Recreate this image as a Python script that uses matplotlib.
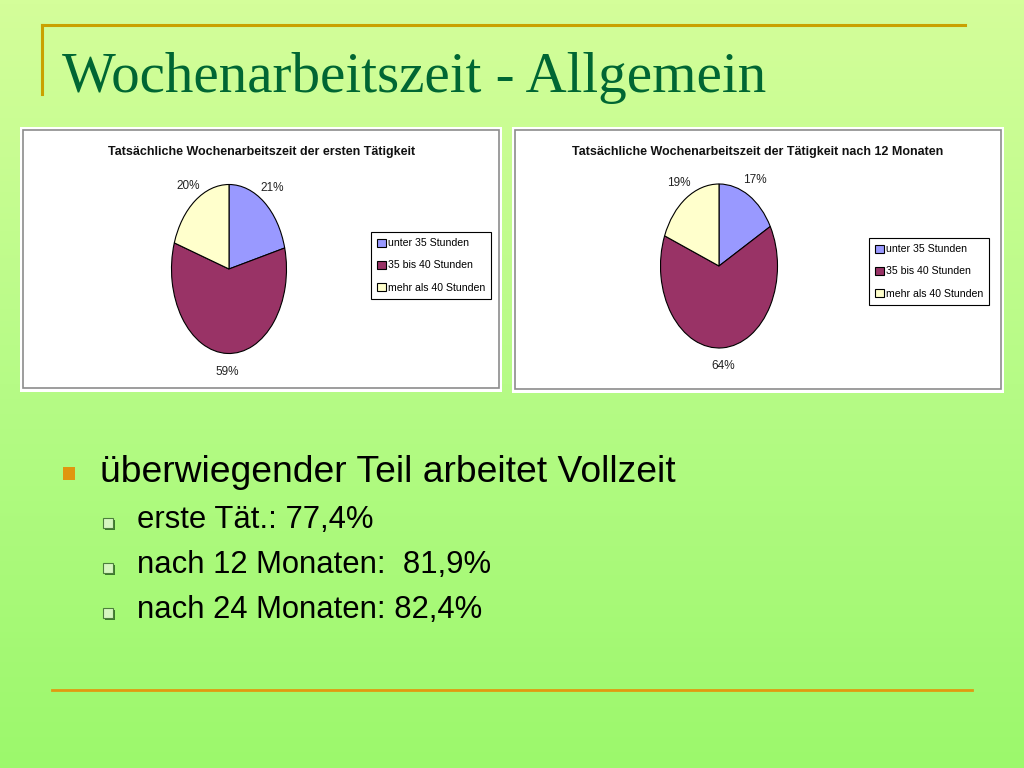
import numpy as np
import matplotlib
matplotlib.use("Agg")
import matplotlib.pyplot as plt
from matplotlib.patches import Rectangle
from matplotlib.colors import LinearSegmentedColormap

W, H = 1024, 768

# ------------------------------------------------------------
# data
# ------------------------------------------------------------
slide_title = "Wochenarbeitszeit - Allgemein"
categories = ["unter 35 Stunden", "35 bis 40 Stunden", "mehr als 40 Stunden"]
slice_colors = ["#9999ff", "#993366", "#ffffcc"]

chart_titles = [
    "Tatsächliche Wochenarbeitszeit der ersten Tätigkeit",
    "Tatsächliche Wochenarbeitszeit der Tätigkeit nach 12 Monaten",
]
values_first = [21, 59, 20]
values_12m = [17, 64, 19]

bullet_main = "überwiegender Teil arbeitet Vollzeit"
bullet_sub = [
    "erste Tät.: 77,4%",
    "nach 12 Monaten:  81,9%",
    "nach 24 Monaten: 82,4%",
]

SANS = ["Liberation Sans", "DejaVu Sans"]


def fx(x):
    return x / W


def fy(y):
    # pixel from top -> figure fraction
    return 1 - y / H


def px_rect(fig, x0, y0, x1, y1, **kw):
    r = Rectangle((fx(x0), fy(y1)), fx(x1) - fx(x0), fy(y0) - fy(y1),
                  transform=fig.transFigure, **kw)
    fig.add_artist(r)
    return r


fig = plt.figure(figsize=(W / 100, H / 100), dpi=100)

# ------------------------------------------------------------
# background gradient
# ------------------------------------------------------------
bg = fig.add_axes([0, 0, 1, 1])
bg.set_zorder(-1)
grad = np.linspace(0, 1, 256).reshape(-1, 1)
cmap = LinearSegmentedColormap.from_list(
    "slide", ["#d4fe9a", "#b6fb86", "#9cf86c"])
bg.imshow(grad, aspect="auto", cmap=cmap, extent=[0, 1, 0, 1], origin="upper")
bg.set_axis_off()

# gold frame lines
fig.add_artist(plt.Line2D([fx(42), fx(965)], [fy(25), fy(25)],
                          color="#c9a100", lw=2.2))
fig.add_artist(plt.Line2D([fx(42), fx(42)], [fy(25), fy(94)],
                          color="#c9a100", lw=2.2))
fig.add_artist(plt.Line2D([fx(52), fx(972)], [fy(690), fy(690)],
                          color="#e09a10", lw=2.0))

fig.text(fx(62), fy(92), slide_title, family="Liberation Serif",
         fontsize=41, color="#006633", va="baseline", ha="left")

# ------------------------------------------------------------
# the two pie charts
# ------------------------------------------------------------
panels = [
    # outer frame, pie centre, radii, title centre, legend top-left
    dict(frame=(20, 127, 502, 392), c=(229, 269), r=(57.5, 84.5),
         t=(262, 152), leg=(371, 232), vals=values_first),
    dict(frame=(512, 127, 1004, 393), c=(719, 266), r=(58.5, 82),
         t=(758, 152), leg=(869, 238), vals=values_12m),
]

for p, title in zip(panels, chart_titles):
    x0, y0, x1, y1 = p["frame"]
    px_rect(fig, x0, y0, x1, y1, facecolor="white", edgecolor="none",
            zorder=1)
    px_rect(fig, x0 + 3, y0 + 3, x1 - 3, y1 - 4, facecolor="white",
            edgecolor="#8c8c8c", lw=1.2, zorder=1)

    fig.text(fx(p["t"][0]), fy(p["t"][1]), title, family=SANS,
             fontweight="bold", fontsize=9, ha="center", va="center",
             color="#111111", zorder=3)

    cx, cy = p["c"]
    rx, ry = p["r"]
    ax = fig.add_axes([fx(cx - rx), fy(cy + ry), 2 * rx / W, 2 * ry / H])
    ax.set_zorder(2)
    wedges, _, autotexts = ax.pie(
        p["vals"], colors=slice_colors, startangle=90, counterclock=False,
        autopct="%.0f%%", pctdistance=1.22,
        wedgeprops=dict(edgecolor="black", linewidth=0.8),
        textprops=dict(fontsize=8.5, family=SANS, color="#222222"),
    )
    ax.set_xlim(-1, 1)
    ax.set_ylim(-1, 1)
    ax.set_aspect("auto")
    ax.set_axis_off()

    lx, ly = p["leg"]
    leg = ax.legend(
        wedges, categories, loc="upper left",
        bbox_to_anchor=(fx(lx), fy(ly)), bbox_transform=fig.transFigure,
        prop=dict(family=SANS, size=7.6), frameon=True, fancybox=False,
        handlelength=0.8, handleheight=0.8, handletextpad=0.2,
        labelspacing=1.15, borderpad=0.6, borderaxespad=0,
    )
    leg.get_frame().set_edgecolor("black")
    leg.get_frame().set_linewidth(0.8)
    leg.get_frame().set_alpha(1)

# ------------------------------------------------------------
# bullet text
# ------------------------------------------------------------
px_rect(fig, 63, 467, 75, 480, facecolor="#e0960f", edgecolor="none")
fig.text(fx(100), fy(482), bullet_main, family="Liberation Sans",
         fontsize=26.8, color="black", va="baseline", ha="left")

sub_baselines = [528, 573, 618]
for text, yb in zip(bullet_sub, sub_baselines):
    top = yb - 10
    px_rect(fig, 105, top + 2, 115, top + 12, facecolor="#3c7a2c",
            edgecolor="none")
    px_rect(fig, 103, top, 113, top + 10, facecolor="#d6f6c0",
            edgecolor="#4c7f3c", lw=0.8)
    fig.text(fx(137), fy(yb), text, family="Liberation Sans",
             fontsize=22.3, color="black", va="baseline", ha="left")

fig.savefig("out.png", dpi=100)
